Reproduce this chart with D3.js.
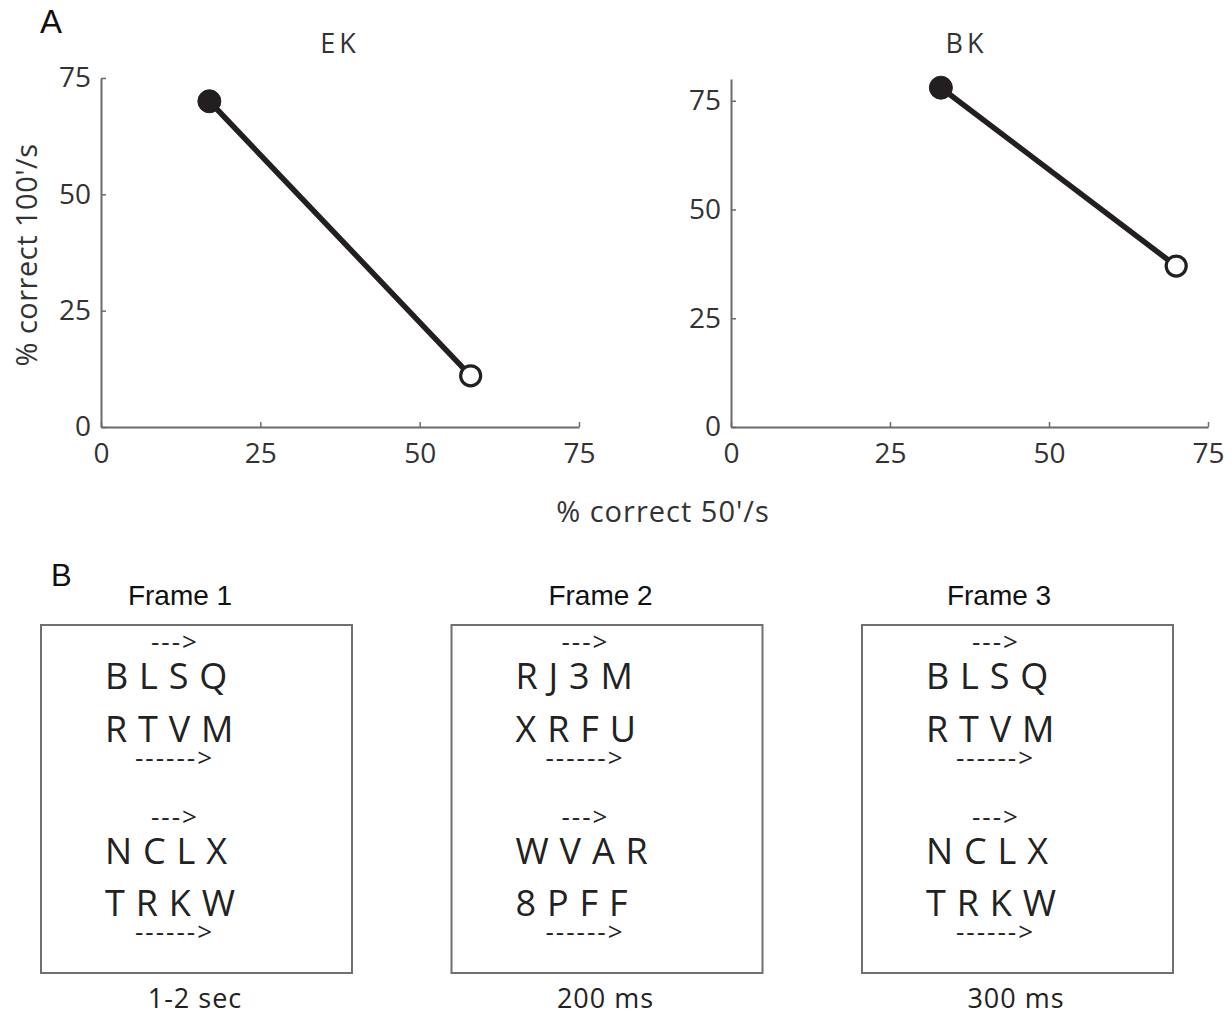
<!DOCTYPE html>
<html><head><meta charset="utf-8">
<script src="https://cdn.jsdelivr.net/npm/d3@7"></script>
<style>
html,body{margin:0;padding:0;background:#fff;}
svg{display:block;}
</style></head>
<body>
<script>
// ---- Data ----
const subjects = ["EK", "BK"];
const pct50 = [[17, 58], [33, 70]];      // % correct 50'/s  (filled, open)
const pct100 = [[70, 11], [78, 37]];     // % correct 100'/s (filled, open)
const yMax = [75, 80];
const xTicks = [0, 25, 50, 75];
const yTicks = [0, 25, 50, 75];
const xLabel = "% correct 50'/s";
const yLabel = "% correct 100'/s";

const frameTitles = ["Frame 1", "Frame 2", "Frame 3"];
const frameDurations = ["1-2 sec", "200 ms", "300 ms"];
const frameRows = [
  ["B L S Q", "R T V M", "N C L X", "T R K W"],
  ["R J 3 M", "X R F U", "W V A R", "8 P F F"],
  ["B L S Q", "R T V M", "N C L X", "T R K W"]
];
const shortArrow = "--->";
const longArrow = "------>";

const W = 1232, H = 1016;
const svg = d3.select("body").append("svg").attr("width", W).attr("height", H);
const chartFont = "'Open Sans', 'Noto Sans', sans-serif";
const arial = "'Liberation Sans', Arial, sans-serif";
const axisColor = "#6b6b6b";
const ink = "#231f20";

// Panel letter A
svg.append("text").attr("x", 40).attr("y", 33).attr("font-family", arial)
  .attr("font-size", 33).attr("fill", "#111").text("A");

// ---- Panel A charts ----
const panels = [
  {x0: 101, x1: 579, y0: 427, y1: 78},
  {x0: 731, x1: 1208, y0: 427, y1: 79}
];
panels.forEach((p, i) => {
  const x = d3.scaleLinear().domain([0, 75]).range([p.x0, p.x1]);
  const y = d3.scaleLinear().domain([0, yMax[i]]).range([p.y0, p.y1]);
  const g = svg.append("g");

  const xa = g.append("g").attr("transform", `translate(0,${p.y0})`)
    .call(d3.axisBottom(x).tickValues(xTicks).tickSizeInner(-5).tickSizeOuter(0).tickPadding(16));
  const ya = g.append("g").attr("transform", `translate(${p.x0},0)`)
    .call(d3.axisLeft(y).tickValues(yTicks).tickSizeInner(-5).tickSizeOuter(0).tickPadding(10));
  [xa, ya].forEach(a => {
    a.select(".domain").attr("stroke", axisColor).attr("stroke-width", 2);
    a.selectAll(".tick line").attr("stroke", axisColor).attr("stroke-width", 1.5);
    a.selectAll(".tick text").attr("font-family", chartFont).attr("font-size", 28)
      .attr("fill", "#333");
  });
  xa.selectAll(".tick text").attr("dy", "0.71em");

  // title
  g.append("text").attr("x", (p.x0 + p.x1) / 2 - (i === 0 ? 0 : 3)).attr("y", 53)
    .attr("text-anchor", "middle").attr("font-family", chartFont).attr("font-size", 27)
    .attr("letter-spacing", 4).attr("fill", "#333")
    .text(subjects[i]);

  const pts = pct50[i].map((v, k) => ({x: v, y: pct100[i][k], filled: k === 0}));
  g.append("path").datum(pts)
    .attr("d", d3.line().x(d => x(d.x)).y(d => y(d.y)))
    .attr("fill", "none").attr("stroke", ink).attr("stroke-width", 5.5);
  g.selectAll("circle").data(pts).join("circle")
    .attr("cx", d => x(d.x)).attr("cy", d => y(d.y))
    .attr("r", d => d.filled ? 11.5 : 10)
    .attr("fill", d => d.filled ? ink : "#fff")
    .attr("stroke", ink).attr("stroke-width", d => d.filled ? 1 : 3.2);
});
// shared labels
svg.append("text").attr("x", 663).attr("y", 522).attr("text-anchor", "middle")
  .attr("font-family", chartFont).attr("font-size", 29).attr("letter-spacing", 1)
  .attr("fill", "#333").text(xLabel);
svg.append("text").attr("transform", "translate(37,255) rotate(-90)")
  .attr("text-anchor", "middle").attr("font-family", chartFont).attr("font-size", 29)
  .attr("letter-spacing", 0.5).attr("fill", "#333").text(yLabel);

// ---- Panel B ----
svg.append("text").attr("x", 51).attr("y", 586).attr("font-family", arial)
  .attr("font-size", 31).attr("fill", "#111").text("B");

const boxX = d3.scaleBand().domain(d3.range(3)).range([41, 1173]).paddingInner(0.2424);
const titleOffset = [139, 149, 137];
const rowBase = [689, 742, 864, 916];
frameTitles.forEach((t, i) => {
  const bx = boxX(i), bw = boxX.bandwidth();
  const g = svg.append("g");
  g.append("text").attr("x", bx + titleOffset[i]).attr("y", 605).attr("text-anchor", "middle")
    .attr("font-family", arial).attr("font-size", 28).attr("fill", "#111").text(t);
  g.append("rect").attr("x", bx).attr("y", 625).attr("width", bw).attr("height", 348)
    .attr("fill", "none").attr("stroke", "#707070").attr("stroke-width", 2);
  frameRows[i].forEach((r, k) => {
    g.append("text").attr("x", bx + 64).attr("y", rowBase[k])
      .attr("font-family", chartFont).attr("font-size", 36).attr("fill", "#222")
      .attr("word-spacing", 1.5).text(r);
  });
  [[shortArrow, 651, 110], [longArrow, 767, 94], [shortArrow, 826, 110], [longArrow, 941, 94]]
    .forEach(([s, yy, dx]) => {
      g.append("text").attr("x", bx + dx).attr("y", yy)
        .attr("font-family", chartFont).attr("font-size", 26).attr("fill", "#222")
        .attr("letter-spacing", 2).text(s);
    });
  g.append("text").attr("x", bx + 154).attr("y", 1008).attr("text-anchor", "middle")
    .attr("font-family", chartFont).attr("font-size", 27).attr("fill", "#222")
    .attr("letter-spacing", 1).text(frameDurations[i]);
});
</script>
</body></html>
